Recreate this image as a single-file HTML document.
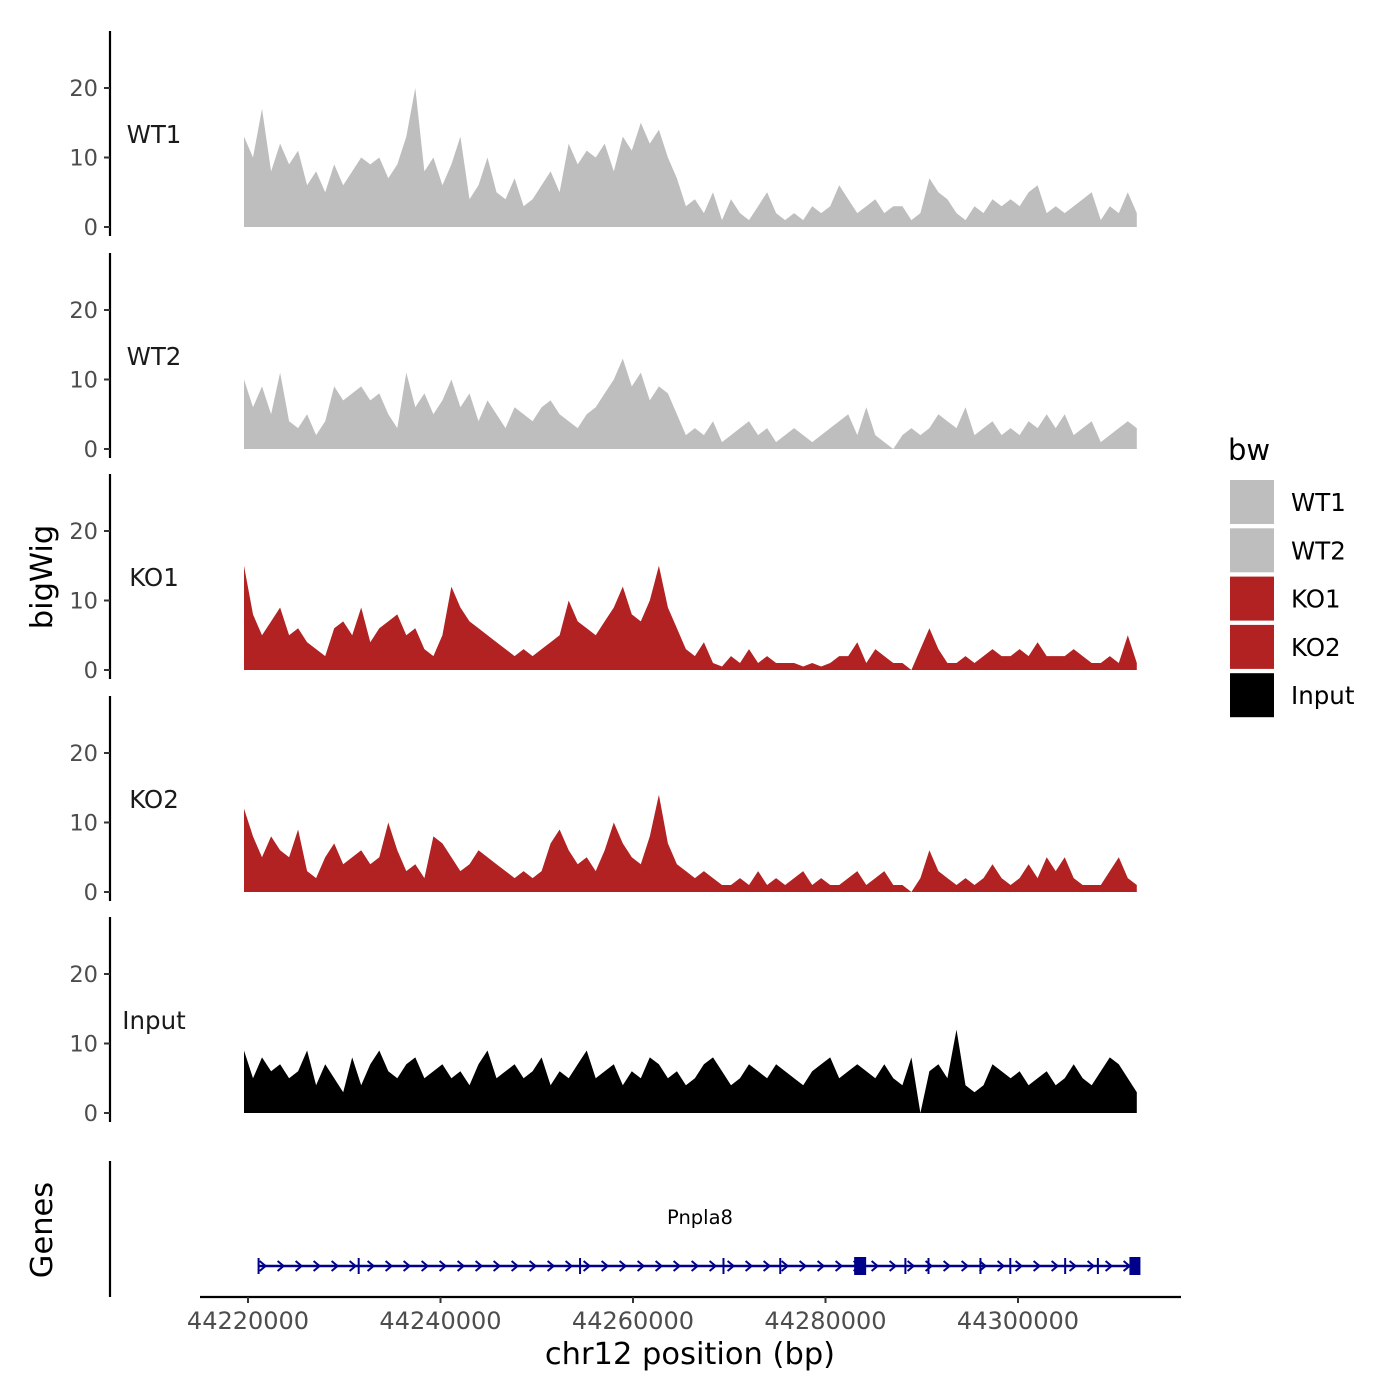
<!DOCTYPE html>
<html><head><meta charset="utf-8">
<style>
html,body{margin:0;padding:0;background:#fff;}
svg{display:block;font-family:"DejaVu Sans","Liberation Sans",sans-serif;}
</style></head>
<body>
<svg id="chart" width="1400" height="1400" viewBox="0 0 1400 1400"></svg>
<script>
const binStart = 44219584;
const binWidth = 937;
const sampleNames = ["WT1","WT2","KO1","KO2","Input"];
const sampleColors = ["#BEBEBE","#BEBEBE","#B22222","#B22222","#000000"];
const yTicks = [0,10,20];
const xTicks = [44220000,44240000,44260000,44280000,44300000];
const wt1 = [13,10,17,8,12,9,11,6,8,5,9,6,8,10,9,10,7,9,13,20,8,10,6,9,13,4,6,10,5,4,7,3,4,6,8,5,12,9,11,10,12,8,13,11,15,12,14,10,7,3,4,2,5,1,4,2,1,3,5,2,1,2,1,3,2,3,6,4,2,3,4,2,3,3,1,2,7,5,4,2,1,3,2,4,3,4,3,5,6,2,3,2,3,4,5,1,3,2,5,2];
const wt2 = [10,6,9,5,11,4,3,5,2,4,9,7,8,9,7,8,5,3,11,6,8,5,7,10,6,8,4,7,5,3,6,5,4,6,7,5,4,3,5,6,8,10,13,9,11,7,9,8,5,2,3,2,4,1,2,3,4,2,3,1,2,3,2,1,2,3,4,5,2,6,2,1,0,2,3,2,3,5,4,3,6,2,3,4,2,3,2,4,3,5,3,5,2,3,4,1,2,3,4,3];
const ko1 = [15,8,5,7,9,5,6,4,3,2,6,7,5,9,4,6,7,8,5,6,3,2,5,12,9,7,6,5,4,3,2,3,2,3,4,5,10,7,6,5,7,9,12,8,7,10,15,9,6,3,2,4,1,0.5,2,1,3,1,2,1,1,1,0.5,1,0.5,1,2,2,4,1,3,2,1,1,0,3,6,3,1,1,2,1,2,3,2,2,3,2,4,2,2,2,3,2,1,1,2,1,5,1];
const ko2 = [12,8,5,8,6,5,9,3,2,5,7,4,5,6,4,5,10,6,3,4,2,8,7,5,3,4,6,5,4,3,2,3,2,3,7,9,6,4,5,3,6,10,7,5,4,8,14,7,4,3,2,3,2,1,1,2,1,3,1,2,1,2,3,1,2,1,1,2,3,1,2,3,1,1,0,2,6,3,2,1,2,1,2,4,2,1,2,4,2,5,3,5,2,1,1,1,3,5,2,1];
const inputTrack = [9,5,8,6,7,5,6,9,4,7,5,3,8,4,7,9,6,5,7,8,5,6,7,5,6,4,7,9,5,6,7,5,6,8,4,6,5,7,9,5,6,7,4,6,5,8,7,5,6,4,5,7,8,6,4,5,7,6,5,7,6,5,4,6,7,8,5,6,7,6,5,7,5,4,8,0,6,7,5,12,4,3,4,7,6,5,6,4,5,6,4,5,7,5,4,6,8,7,5,3];
const seriesValues = [wt1,wt2,ko1,ko2,inputTrack];
const geneStart = 44221100, geneEnd = 44312200;
const exonPositions = [44231500,44254500,44269400,44275300,44283600,44288300,44290700,44296100,44299200,44304900,44308300];

const NS="http://www.w3.org/2000/svg";
const svg=document.getElementById('chart');
function mk(tag,attrs,parent,text){const e=document.createElementNS(NS,tag);for(const k in attrs)e.setAttribute(k,attrs[k]);if(text!==undefined)e.textContent=text;(parent||svg).appendChild(e);return e;}
const xScale = bp => 248 + (bp-44220000)*0.009625;
const panelZero = [227,449,670,892,1113];
const yUnit = 6.95;

sampleNames.forEach((name,s)=>{
  const z=panelZero[s];
  const g=mk('g',{});
  
  
  const ax=mk('line',{x1:110,x2:110,y1:z-196,y2:z+9,stroke:'#000','stroke-width':2.2},g);
  
  
  yTicks.forEach(t=>{
    const y=z-t*yUnit;
    mk('line',{x1:104,x2:110,y1:y,y2:y,stroke:'#333','stroke-width':2},g);
    const tl=mk('text',{x:98,y:y+8,'text-anchor':'end','font-size':22.5,fill:'#4d4d4d'},g,String(t));
    
    
  });
  const lab=mk('text',{x:154,y:z-84,'text-anchor':'middle','font-size':24.5,fill:'#1a1a1a'},g,name);
  
  
  const vals=seriesValues[s];
  let d='M'+xScale(binStart).toFixed(1)+','+z;
  vals.forEach((v,i)=>{d+=' L'+xScale(binStart+i*binWidth).toFixed(1)+','+(z-v*yUnit).toFixed(1);});
  d+=' L'+xScale(binStart+(vals.length-1)*binWidth).toFixed(1)+','+z+' Z';
  const area=mk('path',{d:d,fill:sampleColors[s]},g);
  
  
});

const yt=mk('text',{x:0,y:0,transform:'translate(52,577) rotate(-90)','text-anchor':'middle','font-size':30.5,fill:'#000'},svg,'bigWig');



const gg=mk('g',{});


mk('line',{x1:110,x2:110,y1:1161,y2:1297,stroke:'#000','stroke-width':2.2},gg);
const gt=mk('text',{x:0,y:0,transform:'translate(52,1230) rotate(-90)','text-anchor':'middle','font-size':30.5,fill:'#000'},gg,'Genes');


const gl=mk('text',{x:700,y:1224,'text-anchor':'middle','font-size':19.5,fill:'#000'},gg,'Pnpla8');


const gy=1266;
const gx1=xScale(geneStart), gx2=xScale(geneEnd);
const gline=mk('line',{x1:gx1,x2:gx2,y1:gy,y2:gy,stroke:'#00008B','stroke-width':2.5},gg);


for(let x=gx1+4;x<gx2-6;x+=18){
  mk('path',{d:`M${x-3},${gy-5} L${x+3},${gy} L${x-3},${gy+5}`,fill:'none',stroke:'#00008B','stroke-width':2},gg);
}
exonPositions.forEach(p=>{
  const x=xScale(p);
  const e=mk('line',{x1:x,x2:x,y1:gy-8,y2:gy+8,stroke:'#00008B','stroke-width':2},gg);
  
  
});
mk('line',{x1:gx1,x2:gx1,y1:gy-8,y2:gy+8,stroke:'#00008B','stroke-width':2},gg);
mk('rect',{x:xScale(44283600)-6,y:gy-9,width:12,height:18,fill:'#00008B'},gg);
mk('rect',{x:gx2-6,y:gy-9,width:11,height:18,fill:'#00008B'},gg);

const xa=mk('line',{x1:200,x2:1181,y1:1297,y2:1297,stroke:'#000','stroke-width':2.2});


xTicks.forEach(t=>{
  const x=xScale(t);
  mk('line',{x1:x,x2:x,y1:1297,y2:1303,stroke:'#333','stroke-width':2});
  const tl=mk('text',{x:x,y:1329,'text-anchor':'middle','font-size':24,fill:'#4d4d4d'},svg,String(t));
  
  
});
const xt=mk('text',{x:690,y:1364,'text-anchor':'middle','font-size':30.5,fill:'#000'},svg,'chr12 position (bp)');



const lg=mk('g',{});


const lt=mk('text',{x:1228,y:460,'font-size':29,fill:'#000'},lg,'bw');


sampleNames.forEach((name,i)=>{
  const y=480+i*48.3;
  const r=mk('rect',{x:1230,y:y,width:44,height:44,fill:sampleColors[i]},lg);
  
  
  const t=mk('text',{x:1291,y:y+31,'font-size':24.5,fill:'#000'},lg,name);
  
  
});
</script>
</body></html>
